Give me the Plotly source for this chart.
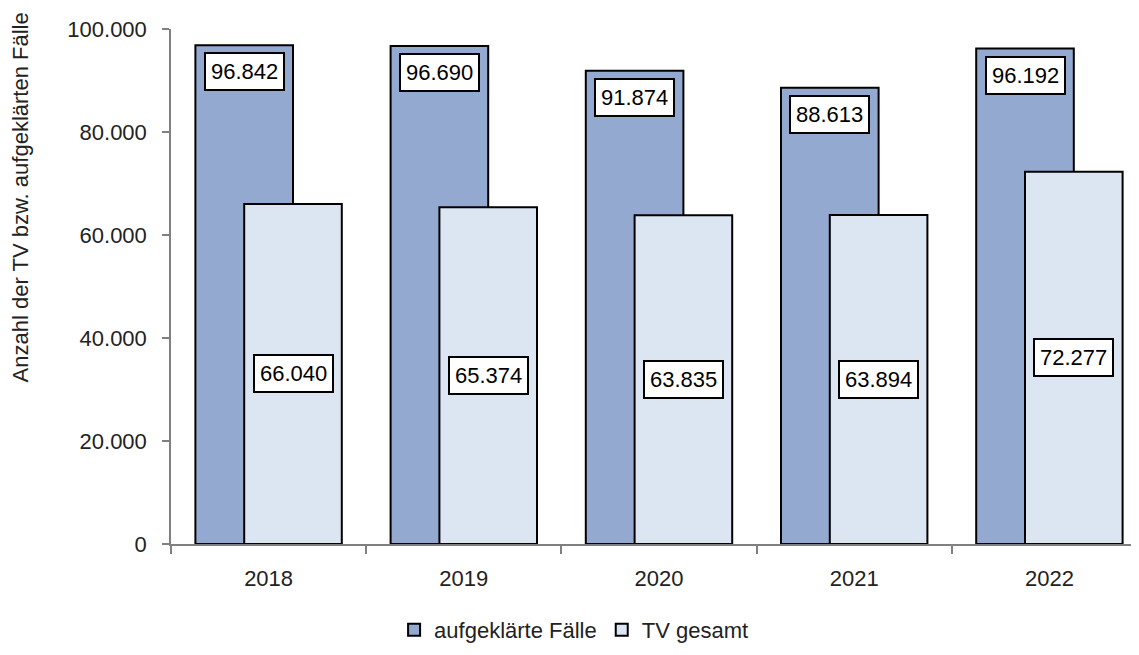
import plotly.graph_objects as go

years = ["2018", "2019", "2020", "2021", "2022"]
aufgeklaerte = [96842, 96690, 91874, 88613, 96192]
tv_gesamt = [66040, 65374, 63835, 63894, 72277]
y_ticks = [0, 20000, 40000, 60000, 80000, 100000]
y_ticktext = ["0", "20.000", "40.000", "60.000", "80.000", "100.000"]

FONT = "Liberation Sans, Arial, sans-serif"
FS = 22
DARK = "#94A9D0"
LIGHT = "#DCE5F2"
AXIS = "#808080"


def fmt(v):
    return f"{v:,}".replace(",", ".")


fig = go.Figure()
fig.add_trace(go.Bar(
    x=years, y=aufgeklaerte, name="aufgeklärte Fälle",
    offset=-0.375, width=0.5,
    marker=dict(color=DARK, line=dict(color="black", width=2)),
))
fig.add_trace(go.Bar(
    x=years, y=tv_gesamt, name="TV gesamt",
    offset=-0.125, width=0.5,
    marker=dict(color=LIGHT, line=dict(color="black", width=2)),
))

for i, (a, t) in enumerate(zip(aufgeklaerte, tv_gesamt)):
    fig.add_annotation(x=i - 0.125, y=a, xref="x", yref="y", text=fmt(a),
                       showarrow=False, yanchor="top", yshift=-7,
                       bgcolor="white", bordercolor="black", borderwidth=2, borderpad=5,
                       font=dict(family=FONT, size=FS, color="black"))
    fig.add_annotation(x=i + 0.125, y=t / 2, xref="x", yref="y", text=fmt(t),
                       showarrow=False, yanchor="middle",
                       bgcolor="white", bordercolor="black", borderwidth=2, borderpad=5,
                       font=dict(family=FONT, size=FS, color="black"))

fig.add_annotation(text="Anzahl der TV bzw. aufgeklärten Fälle", textangle=-90,
                   xref="paper", yref="paper", x=-0.1547, y=0.673,
                   showarrow=False, xanchor="center", yanchor="middle",
                   font=dict(family=FONT, size=FS, color="#222"))

x_range = [-0.5, 4.5]

fig.update_layout(
    width=1139, height=655,
    margin=dict(l=163, r=0, t=21, b=119),
    paper_bgcolor="white", plot_bgcolor="white",
    barmode="overlay",
    font=dict(family=FONT, size=FS, color="#222"),
    showlegend=True,
    legend=dict(orientation="h", x=0.413, xanchor="center", y=-0.167, yanchor="middle",
                font=dict(family=FONT, size=FS, color="#222"), traceorder="normal"),
    xaxis=dict(type="category", range=x_range, showgrid=False, showline=True,
               linecolor=AXIS, linewidth=1.5, ticks="outside", tickson="boundaries",
               ticklen=8, tickcolor=AXIS, tickwidth=1.5, ticklabelstandoff=14,
               tickfont=dict(family=FONT, size=FS, color="#222")),
    yaxis=dict(range=[0, 100000], tickvals=y_ticks, ticktext=y_ticktext,
               showgrid=False, zeroline=False, showline=True, linecolor=AXIS, linewidth=1.5,
               ticks="outside", ticklen=7, tickcolor=AXIS, tickwidth=1.5,
               ticklabelstandoff=11,
               tickfont=dict(family=FONT, size=FS, color="#222")),
    xaxis2=dict(overlaying="x", anchor="y", range=x_range, showgrid=False,
                tickvals=[-0.5, 0.5, 1.5, 2.5, 3.5, 4.5], showticklabels=False,
                ticks="inside", ticklen=8, tickcolor=AXIS, tickwidth=1.5, showline=False,
                zeroline=False, side="bottom"),
    yaxis2=dict(overlaying="y", anchor="x", range=[0, 100000], tickvals=y_ticks,
                showticklabels=False, ticks="inside", ticklen=7, tickcolor=AXIS,
                tickwidth=1.5, showgrid=False, zeroline=False, showline=False, side="left"),
)

fig.write_html("out.html")
